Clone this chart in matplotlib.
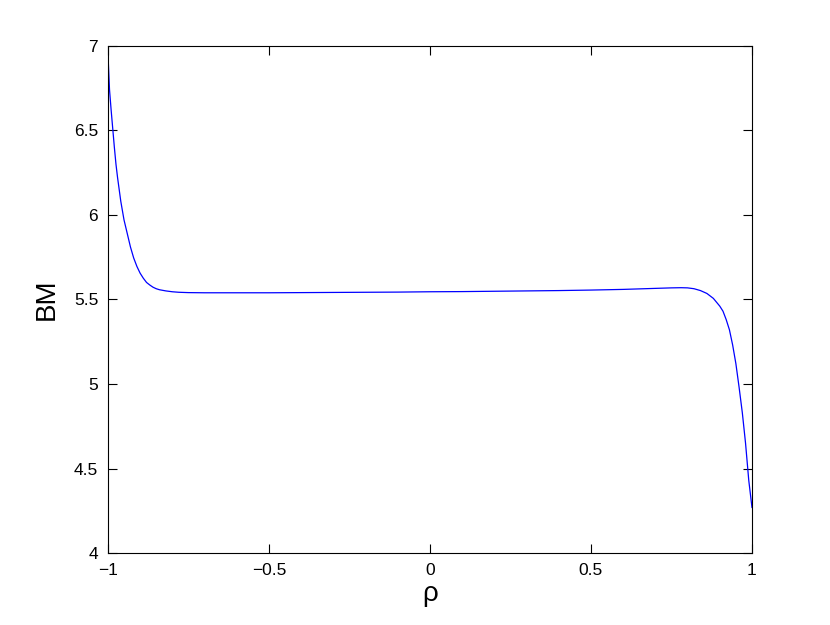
import matplotlib
matplotlib.use('Agg')
import matplotlib.pyplot as plt

plt.rcParams['font.family'] = ['Liberation Sans', 'DejaVu Sans']
plt.rcParams['axes.unicode_minus'] = True

# values
rho = [-1.000, -0.995, -0.990, -0.985, -0.980, -0.975, -0.970, -0.960, -0.950,
       -0.940, -0.930, -0.920, -0.910, -0.900, -0.890, -0.880, -0.870, -0.860,
       -0.850, -0.840, -0.820, -0.800, -0.780, -0.750, -0.700, -0.600, -0.500,
       -0.400, -0.300, -0.200, -0.100, 0.000, 0.100, 0.200, 0.300, 0.400, 0.500,
       0.600, 0.650, 0.700, 0.750, 0.780, 0.800, 0.820, 0.840, 0.860, 0.880,
       0.900, 0.910, 0.920, 0.930, 0.940, 0.950, 0.960, 0.970, 0.980, 0.990,
       1.000]
bm = [6.96, 6.74, 6.62, 6.51, 6.40, 6.30, 6.22, 6.08, 5.97,
      5.89, 5.81, 5.745, 5.695, 5.655, 5.625, 5.600, 5.585, 5.572,
      5.563, 5.557, 5.550, 5.545, 5.542, 5.540, 5.539, 5.539, 5.539,
      5.540, 5.541, 5.542, 5.543, 5.545, 5.546, 5.548, 5.550, 5.552, 5.555,
      5.559, 5.562, 5.565, 5.568, 5.569, 5.568, 5.563, 5.552, 5.535, 5.506,
      5.460, 5.430, 5.380, 5.320, 5.230, 5.120, 4.980, 4.830, 4.650, 4.430,
      4.270]

xticks = [-1, -0.5, 0, 0.5, 1]
xticklabels = ['\u22121', '\u22120.5', '0', '0.5', '1']
yticks = [4, 4.5, 5, 5.5, 6, 6.5, 7]
yticklabels = ['4', '4.5', '5', '5.5', '6', '6.5', '7']

fig = plt.figure(figsize=(8.3, 6.25), dpi=100)
ax = fig.add_axes([0.130, 0.115, 0.776, 0.812])

ax.plot(rho, bm, color='#0000ff', linewidth=0.9)

ax.set_xlim(-1, 1)
ax.set_ylim(4, 7)
ax.set_xticks(xticks)
ax.set_xticklabels(xticklabels)
ax.set_yticks(yticks)
ax.set_yticklabels(yticklabels)
ax.tick_params(direction='in', length=6.5, width=0.8, labelsize=12.5,
               top=True, right=True, pad=7)
for s in ax.spines.values():
    s.set_linewidth(0.8)

ax.set_xlabel('\u03c1', fontsize=20, labelpad=2)
ax.set_ylabel('BM', fontsize=20, labelpad=10)

fig.savefig('out.png', dpi=100)
